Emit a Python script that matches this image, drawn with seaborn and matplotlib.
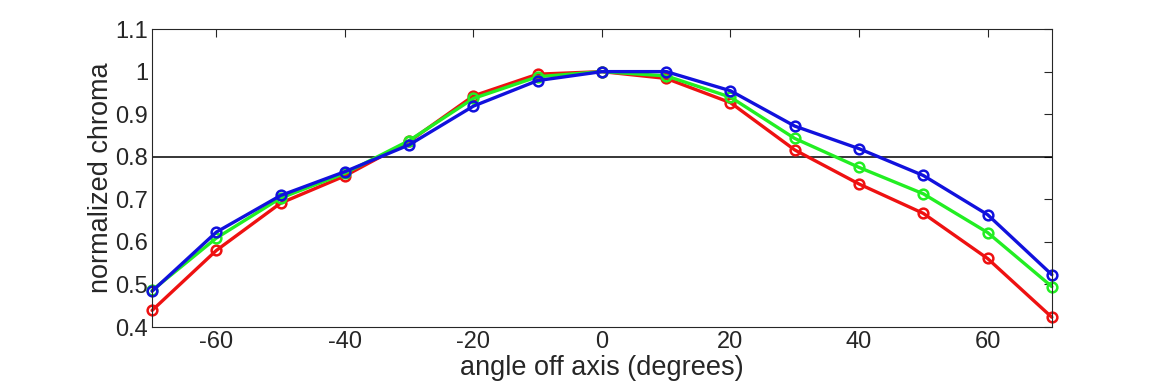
import pandas as pd
import matplotlib
matplotlib.use("Agg")
import matplotlib.pyplot as plt
import seaborn as sns

angles = [-70, -60, -50, -40, -30, -20, -10, 0, 10, 20, 30, 40, 50, 60, 70]
red = [0.439, 0.580, 0.691, 0.755, 0.836, 0.943, 0.994, 1.0, 0.984, 0.927, 0.816, 0.736, 0.667, 0.561, 0.423]
green = [0.486, 0.609, 0.703, 0.761, 0.838, 0.937, 0.988, 1.0, 0.990, 0.940, 0.843, 0.775, 0.713, 0.622, 0.495]
blue = [0.484, 0.623, 0.709, 0.765, 0.828, 0.919, 0.979, 1.0, 1.0, 0.955, 0.872, 0.819, 0.756, 0.664, 0.523]

df = pd.DataFrame({
    "angle": angles * 3,
    "chroma": red + green + blue,
    "channel": ["red"] * len(angles) + ["green"] * len(angles) + ["blue"] * len(angles),
})
colors = {"red": "#ee1111", "green": "#22ee22", "blue": "#1111dd"}

sns.set_style("white")
plt.rcParams["font.family"] = ["Liberation Sans", "DejaVu Sans"]
plt.rcParams["axes.unicode_minus"] = False

fig = plt.figure(figsize=(11.7, 3.9), dpi=100)
ax = fig.add_axes([0.130, 0.1615, 0.769, 0.764])

sns.lineplot(data=df, x="angle", y="chroma", hue="channel", palette=colors,
             marker="o", markersize=7, markerfacecolor="none", markeredgewidth=1.8,
             linewidth=2.4, legend=False, ax=ax)
for line in ax.get_lines():
    line.set_markeredgecolor(line.get_color())
    line.set_clip_on(False)

ax.axhline(0.8, color="black", linewidth=1.1, zorder=1)

ax.set_xlim(-70, 70)
ax.set_ylim(0.4, 1.1)
ax.set_xticks([-60, -40, -20, 0, 20, 40, 60])
ax.set_yticks([0.4, 0.5, 0.6, 0.7, 0.8, 0.9, 1.0, 1.1])
ax.set_yticklabels(["0.4", "0.5", "0.6", "0.7", "0.8", "0.9", "1", "1.1"])
ax.tick_params(direction="in", length=6, width=0.8, top=True, right=True,
               labelsize=17, colors="#262626", pad=3)
for s in ax.spines.values():
    s.set_color("#262626")
    s.set_linewidth(0.8)
ax.set_xlabel("angle off axis (degrees)", fontsize=19.5, color="#262626", labelpad=1)
ax.set_ylabel("normalized chroma", fontsize=19.5, color="#262626", labelpad=1)

fig.savefig("out.png", dpi=100)
